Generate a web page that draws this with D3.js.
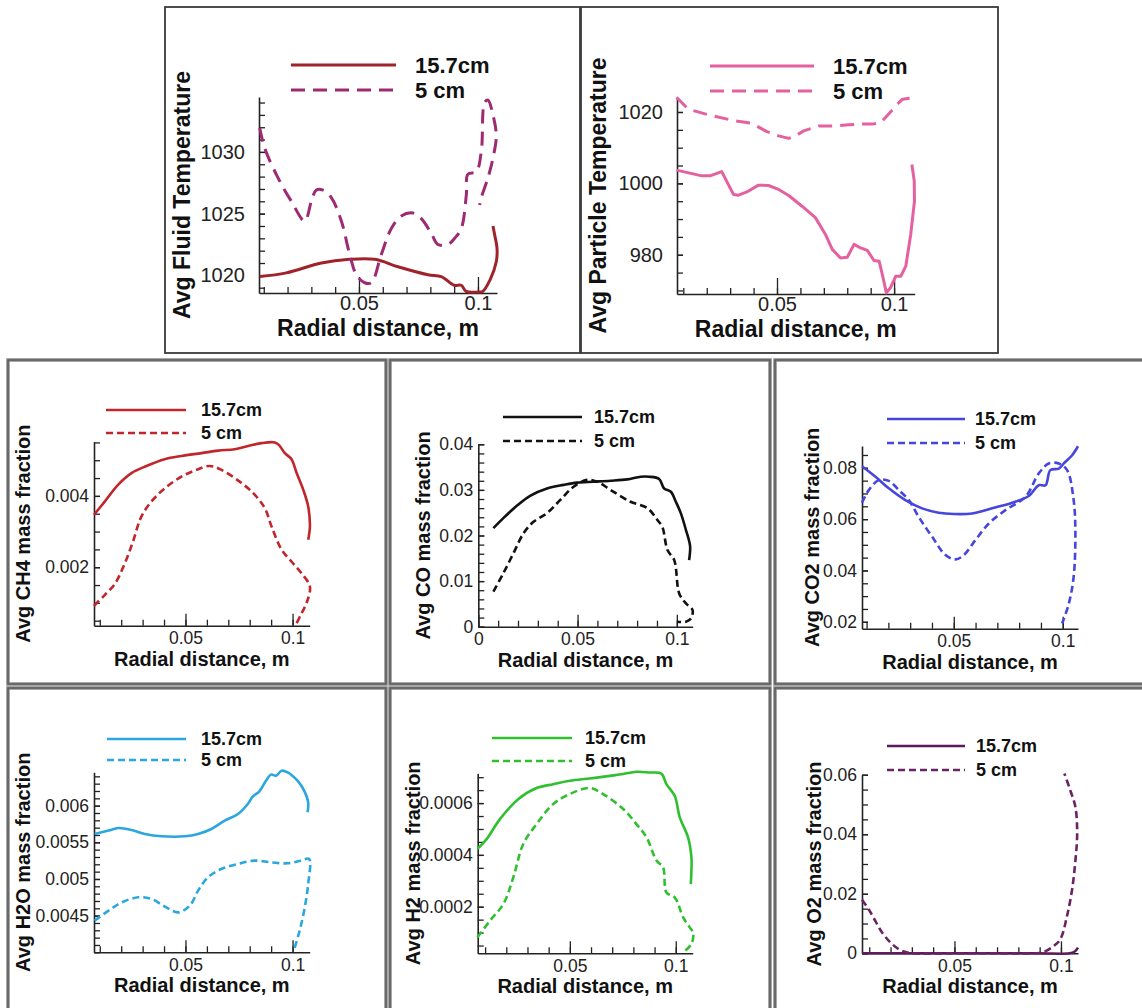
<!DOCTYPE html>
<html>
<head>
<meta charset="utf-8">
<script src="https://cdn.jsdelivr.net/npm/d3@7"></script>
<style>
  body { margin: 0; background: #fff; }
  svg { display: block; font-family: "Liberation Sans", Arial, sans-serif; }
</style>
</head>
<body>
<svg id="fig" width="1142" height="1008"></svg>
<script>
// Radial profiles at two heights (15.7 cm and 5 cm): [radial distance (m), value]
const seriesNames = ["15.7cm", "5 cm"];
const xAxisTitle = "Radial distance, m";

const fluidTemp157 = [[0.0083,1019.9],[0.0195,1020.2],[0.0342,1021.0],[0.046,1021.3],[0.0566,1021.3],[0.0664,1020.7],[0.079,1020.05],[0.0846,1019.9],[0.090,1019.2],[0.093,1019.2],[0.095,1018.7],[0.1,1018.65],[0.102,1018.7],[0.105,1019.6],[0.1077,1021.1],[0.108,1022.2],[0.107,1023.3],[0.1063,1024.0]];
const fluidTemp5 = [[0.0083,1031.95],[0.0104,1030.3],[0.016,1027.9],[0.0216,1026.0],[0.0272,1024.4],[0.030,1026.0],[0.032,1026.9],[0.0349,1026.9],[0.0384,1026.3],[0.0426,1024.4],[0.0461,1021.7],[0.0489,1020.05],[0.0524,1019.4],[0.0552,1019.4],[0.0594,1021.7],[0.0636,1023.8],[0.0678,1024.8],[0.0727,1025.05],[0.0762,1024.6],[0.0804,1023.4],[0.0832,1022.5],[0.0874,1022.5],[0.0902,1023.0],[0.093,1023.8],[0.0951,1026.5],[0.0958,1028.2],[0.0993,1028.4],[0.1014,1030.05],[0.1028,1034.0],[0.1042,1034.2],[0.1063,1033.0],[0.1077,1031.3],[0.1063,1029.5],[0.1042,1027.9],[0.1014,1026.3],[0.1007,1025.7]];
const fluidTempTicks = [1020, 1025, 1030];

const particleTemp157 = [[0.0071,1003.7],[0.0179,1002.1],[0.0214,1002.1],[0.0264,1003.3],[0.0314,996.9],[0.0336,996.7],[0.0371,997.6],[0.0421,999.5],[0.0464,999.4],[0.0507,998.3],[0.055,996.6],[0.0607,993.6],[0.0664,990.4],[0.0707,985.7],[0.0736,981.5],[0.0771,979.1],[0.08,979.3],[0.0829,982.9],[0.0857,981.9],[0.0886,981.2],[0.0914,978.4],[0.0936,978.2],[0.095,974.4],[0.0967,969.3],[0.0986,970.9],[0.1007,974],[0.1029,974],[0.105,976.8],[0.1071,985.7],[0.1087,995],[0.1086,1000.7],[0.1076,1005.3]];
const particleTemp5 = [[0.0071,1024.1],[0.0121,1020.8],[0.0207,1019.2],[0.0307,1017.7],[0.0393,1016.8],[0.0457,1014.5],[0.0507,1013.3],[0.055,1012.6],[0.0579,1013.3],[0.0614,1014.7],[0.0679,1016.1],[0.075,1016.1],[0.0807,1016.4],[0.085,1016.6],[0.0907,1016.6],[0.0943,1017.0],[0.0979,1019.6],[0.1014,1022.2],[0.1036,1023.6],[0.1071,1023.9],[0.1085,1024.3]];
const particleTempTicks = [980, 1000, 1020];

const ch4_157 = [[0.0073,0.00347],[0.0123,0.00384],[0.0185,0.00431],[0.0248,0.00464],[0.0318,0.00484],[0.0403,0.00503],[0.0481,0.00512],[0.0575,0.0052],[0.0653,0.00527],[0.073,0.00531],[0.0793,0.0054],[0.0855,0.00548],[0.0917,0.0055],[0.0936,0.00543],[0.0964,0.0052],[0.0995,0.00503],[0.1019,0.00464],[0.105,0.00417],[0.1073,0.0037],[0.1081,0.00314],[0.1073,0.00277]];
const ch4_5 = [[0.0073,0.00092],[0.0123,0.00122],[0.017,0.00153],[0.0217,0.00211],[0.0255,0.00272],[0.0294,0.00342],[0.0341,0.00384],[0.0403,0.00421],[0.0481,0.00454],[0.0551,0.00473],[0.0614,0.00484],[0.0668,0.00473],[0.0762,0.00436],[0.0824,0.00403],[0.0871,0.00365],[0.0902,0.00314],[0.0949,0.00249],[0.0995,0.00216],[0.1042,0.00183],[0.1081,0.00146],[0.1065,0.00099],[0.1042,0.00071],[0.1019,0.00043]];
const ch4Ticks = [0.002, 0.004];

const co157 = [[0.0076,0.0216],[0.0126,0.0238],[0.0194,0.0265],[0.0261,0.0287],[0.0346,0.0303],[0.043,0.0311],[0.0497,0.0316],[0.0582,0.0318],[0.0666,0.032],[0.075,0.0323],[0.0818,0.0329],[0.086,0.0329],[0.0911,0.0324],[0.0936,0.0303],[0.097,0.0296],[0.0995,0.0274],[0.102,0.0249],[0.1046,0.0212],[0.1067,0.0176],[0.1062,0.0146]];
const co5 = [[0.0076,0.0077],[0.0126,0.0117],[0.0177,0.0161],[0.0228,0.0205],[0.0278,0.023],[0.0346,0.0249],[0.0413,0.0278],[0.048,0.0307],[0.0548,0.0322],[0.0599,0.0318],[0.0666,0.03],[0.0767,0.0274],[0.0852,0.026],[0.0902,0.0234],[0.0927,0.0219],[0.0953,0.0168],[0.0987,0.0146],[0.1012,0.0073],[0.1046,0.0051],[0.1079,0.0037],[0.1071,0.0018],[0.1046,0.0011],[0.1003,0.0011]];
const coTicks = [0, 0.01, 0.02, 0.03, 0.04];

const co2_157 = [[0.0079,0.0806],[0.0141,0.0765],[0.0202,0.072],[0.0278,0.0674],[0.0355,0.0642],[0.0431,0.0625],[0.05,0.062],[0.0584,0.0622],[0.0676,0.0642],[0.0768,0.0664],[0.0844,0.069],[0.089,0.0732],[0.0921,0.0732],[0.0943,0.0791],[0.0982,0.0797],[0.1005,0.0817],[0.1043,0.0849],[0.107,0.0884]];
const co2_5 = [[0.0079,0.0664],[0.011,0.0713],[0.0156,0.0752],[0.0202,0.0749],[0.0248,0.0713],[0.0294,0.0674],[0.0339,0.0609],[0.0401,0.0531],[0.0462,0.046],[0.0508,0.0443],[0.0546,0.046],[0.0599,0.0518],[0.0661,0.0583],[0.0737,0.0635],[0.0829,0.0687],[0.089,0.0778],[0.0936,0.0817],[0.0982,0.0817],[0.102,0.0791],[0.105,0.0674],[0.1058,0.0544],[0.105,0.0375],[0.1028,0.0271],[0.0997,0.0193]];
const co2Ticks = [0.02, 0.04, 0.06, 0.08];

const h2o157 = [[0.0076,0.005614],[0.0141,0.00566],[0.0187,0.005695],[0.0249,0.005668],[0.0311,0.005614],[0.0389,0.005582],[0.0497,0.005582],[0.0559,0.005614],[0.0621,0.005682],[0.0683,0.005795],[0.0745,0.005886],[0.0791,0.006023],[0.0814,0.006123],[0.0845,0.006195],[0.0876,0.006341],[0.0899,0.006423],[0.0923,0.006409],[0.0949,0.006477],[0.0977,0.006455],[0.1023,0.006341],[0.1054,0.006205],[0.1073,0.006045],[0.107,0.005909]];
const h2o5 = [[0.0076,0.004432],[0.0141,0.004568],[0.0203,0.004682],[0.028,0.00475],[0.0342,0.004727],[0.0404,0.004623],[0.0466,0.004545],[0.052,0.004636],[0.0559,0.004841],[0.0605,0.005023],[0.0667,0.005136],[0.0745,0.005205],[0.0822,0.00525],[0.0899,0.005227],[0.0977,0.005214],[0.1039,0.00525],[0.1077,0.005273],[0.1073,0.004932],[0.1054,0.004568],[0.1031,0.004273],[0.1008,0.004045]];
const h2oTicks = [0.0045, 0.005, 0.0055, 0.006];

const h2_157 = [[0.0064,0.000423],[0.0107,0.000461],[0.017,0.000538],[0.0256,0.000615],[0.0343,0.000658],[0.0421,0.000673],[0.05,0.000686],[0.0594,0.000695],[0.0689,0.000705],[0.0752,0.000712],[0.0814,0.000721],[0.0877,0.000718],[0.0932,0.000714],[0.0956,0.000673],[0.0995,0.000628],[0.1019,0.000545],[0.1058,0.000468],[0.1074,0.00039],[0.1074,0.000339],[0.1071,0.000287]];
const h2_5 = [[0.0064,0.000082],[0.0123,0.000146],[0.0186,0.00021],[0.0233,0.000313],[0.028,0.000442],[0.0343,0.000519],[0.0421,0.000596],[0.05,0.000635],[0.0594,0.000658],[0.0657,0.000635],[0.0752,0.000577],[0.0814,0.000519],[0.0862,0.000468],[0.0909,0.000378],[0.094,0.000352],[0.0956,0.000255],[0.0995,0.000236],[0.1035,0.000159],[0.1066,0.00012],[0.1082,0.0001],[0.1074,0.000056],[0.1035,0.000024]];
const h2Ticks = [0.0002, 0.0004, 0.0006];

const o2_157 = [[0.0066,0],[0.03,0],[0.06,0],[0.09,0],[0.104,0],[0.1065,0.0006],[0.108,0.0019]];
const o2_5 = [[0.0066,0.018],[0.0098,0.0147],[0.0129,0.0108],[0.0161,0.0069],[0.02,0.0036],[0.024,0.0013],[0.0271,0.0004],[0.0303,0],[0.05,0],[0.07,0],[0.088,0],[0.0918,0.0004],[0.0965,0.0024],[0.0997,0.0047],[0.1028,0.0124],[0.1052,0.0213],[0.1068,0.0313],[0.1076,0.0402],[0.1068,0.0491],[0.1044,0.0547],[0.1016,0.0604]];
const o2Ticks = [0, 0.02, 0.04, 0.06];

// Panel layout: frame box, plot area (x0, x1, yTop, yBottom) and styling
const bigText = { tick: 20, title: 23, legend: 22, tickPad: 14, xPad: 3, xMajor: 16, lw: 3, dash: "14,8" };
const smallText = { tick: 17.5, title: 20, legend: 18, tickPad: 5, xPad: 6, xMajor: 12, lw: 2.6, dash: "7,4" };

const panels = [
  { frame: [165, 7, 580, 353], frameStyle: "dark", plot: [259, 497, 97, 293], xDomain: [0.008, 0.108], yDomain: [1018.57, 1034.45],
    yTicks: fluidTempTicks, yMinor: 1, xTicks: [0.05, 0.1], yTitle: "Avg Fluid Temperature", yTitleX: 182,
    data: [fluidTemp157, fluidTemp5], colors: ["#a0232b", "#9e2a72"], smooth: true, text: bigText,
    legend: { x0: 291, x1: 396, y: 65, tx: 415, gap: 25 } },
  { frame: [581, 7, 998, 353], frameStyle: "dark", plot: [677, 914.7, 97, 294], xDomain: [0.0073, 0.1088], yDomain: [969, 1024.2],
    yTicks: particleTempTicks, yMinor: 5, xTicks: [0.05, 0.1], yTitle: "Avg Particle Temperature", yTitleX: 598,
    data: [particleTemp157, particleTemp5], colors: ["#e4609f", "#e4609f"], smooth: false, text: bigText,
    legend: { x0: 710, x1: 814, y: 66, tx: 833, gap: 25 } },
  { frame: [8, 360, 386, 684], frameStyle: "gray", plot: [94, 309.7, 441.7, 625.7], xDomain: [0.0073, 0.108], yDomain: [0.00036, 0.00552],
    yTicks: ch4Ticks, yMinor: 0.0005, xTicks: [0.05, 0.1], yTitle: "Avg CH4 mass fraction", yTitleX: 23,
    data: [ch4_157, ch4_5], colors: ["#c0262c", "#c0262c"], smooth: true, text: smallText,
    legend: { x0: 106, x1: 186, y: 410, tx: 201, gap: 23 } },
  { frame: [390, 360, 770, 684], frameStyle: "gray", plot: [478.3, 692.7, 444.3, 626.7], xDomain: [0, 0.108], yDomain: [0, 0.04],
    yTicks: coTicks, yMinor: 0.002, xTicks: [0, 0.05, 0.1], yTitle: "Avg CO mass fraction", yTitleX: 423,
    data: [co157, co5], colors: ["#111111", "#111111"], smooth: true, text: smallText,
    legend: { x0: 503, x1: 582, y: 417, tx: 594, gap: 24 } },
  { frame: [775, 360, 1152, 684], frameStyle: "gray", plot: [862, 1078, 446, 628.7], xDomain: [0.0079, 0.107], yDomain: [0.0173, 0.0885],
    yTicks: co2Ticks, yMinor: 0.005, xTicks: [0.05, 0.1], yTitle: "Avg CO2 mass fraction", yTitleX: 812,
    data: [co2_157, co2_5], colors: ["#4646de", "#4646de"], smooth: true, text: smallText,
    legend: { x0: 887, x1: 965, y: 419, tx: 975, gap: 24 } },
  { frame: [8, 688, 386, 1016], frameStyle: "gray", plot: [94, 309.7, 772.3, 952.3], xDomain: [0.0073, 0.108], yDomain: [0.0040, 0.006455],
    yTicks: h2oTicks, yMinor: 0.0001, xTicks: [0.05, 0.1], yTitle: "Avg H2O mass fraction", yTitleX: 23,
    data: [h2o157, h2o5], colors: ["#2ba6de", "#2ba6de"], smooth: true, text: smallText,
    legend: { x0: 107, x1: 186, y: 739, tx: 201, gap: 21 } },
  { frame: [390, 688, 770, 1016], frameStyle: "gray", plot: [477.7, 692.7, 773.3, 953.3], xDomain: [0.0065, 0.108], yDomain: [0.00002, 0.000715],
    yTicks: h2Ticks, yMinor: 0.00005, xTicks: [0.05, 0.1], yTitle: "Avg H2 mass fraction", yTitleX: 413,
    data: [h2_157, h2_5], colors: ["#2fbf2f", "#2fbf2f"], smooth: true, text: smallText,
    legend: { x0: 492, x1: 572, y: 738, tx: 585, gap: 23 } },
  { frame: [775, 688, 1152, 1016], frameStyle: "gray", plot: [862, 1078, 774.7, 953.3], xDomain: [0.0066, 0.108], yDomain: [0, 0.06],
    yTicks: o2Ticks, yMinor: 0.005, xTicks: [0.05, 0.1], yTitle: "Avg O2 mass fraction", yTitleX: 814,
    data: [o2_157, o2_5], colors: ["#5e1a5a", "#6a2464"], smooth: true, text: smallText,
    legend: { x0: 887, x1: 965, y: 746, tx: 976, gap: 24 } }
];

const svg = d3.select("#fig");

function minorValues(domain, step) {
  const out = [];
  const start = Math.ceil(domain[0] / step - 1e-9);
  const end = Math.floor(domain[1] / step + 1e-9);
  for (let k = start; k <= end; k++) out.push(+(k * step).toPrecision(10));
  return out;
}

panels.forEach(p => {
  const t = p.text;
  const [fx0, fy0, fx1, fy1] = p.frame;
  // panel frame
  if (p.frameStyle === "gray") {
    svg.append("rect").attr("x", fx0).attr("y", fy0).attr("width", fx1 - fx0).attr("height", fy1 - fy0)
      .attr("fill", "none").attr("stroke", "#8a8a8a").attr("stroke-width", 3.5);
    svg.append("rect").attr("x", fx0).attr("y", fy0).attr("width", fx1 - fx0).attr("height", fy1 - fy0)
      .attr("fill", "none").attr("stroke", "#555").attr("stroke-width", 1.2);
  } else {
    svg.append("rect").attr("x", fx0).attr("y", fy0).attr("width", fx1 - fx0).attr("height", fy1 - fy0)
      .attr("fill", "none").attr("stroke", "#3a3a3a").attr("stroke-width", 1.8);
  }

  const [px0, px1, pyT, pyB] = p.plot;
  const x = d3.scaleLinear().domain(p.xDomain).range([px0, px1]);
  const y = d3.scaleLinear().domain(p.yDomain).range([pyB, pyT]);
  const g = svg.append("g");

  // minor ticks
  g.append("g").attr("transform", `translate(0,${pyB})`)
    .call(d3.axisBottom(x).tickValues(minorValues(p.xDomain, 0.01)).tickSize(-6).tickSizeOuter(0).tickFormat(""))
    .call(s => s.select(".domain").remove());
  g.append("g").attr("transform", `translate(${px0},0)`)
    .call(d3.axisLeft(y).tickValues(minorValues(p.yDomain, p.yMinor)).tickSize(-6).tickSizeOuter(0).tickFormat(""))
    .call(s => s.select(".domain").remove());

  // major ticks + labels
  const xAx = g.append("g").attr("transform", `translate(0,${pyB})`)
    .call(d3.axisBottom(x).tickValues(p.xTicks).tickSize(-t.xMajor).tickSizeOuter(0).tickPadding(t.xPad).tickFormat(d => String(d)));
  const yAx = g.append("g").attr("transform", `translate(${px0},0)`)
    .call(d3.axisLeft(y).tickValues(p.yTicks).tickSize(-6).tickSizeOuter(0).tickPadding(t.tickPad).tickFormat(d => String(d)));
  [xAx, yAx].forEach(a => {
    a.selectAll("text").attr("font-size", t.tick).attr("fill", "#222").attr("font-family", "Liberation Sans, Arial, sans-serif");
  });
  g.selectAll(".tick line").attr("stroke", "#222").attr("stroke-width", 1.3);
  g.selectAll(".domain").attr("stroke", "#222").attr("stroke-width", 1.6);

  // axis titles
  svg.append("text").attr("x", (px0 + px1) / 2).attr("y", pyB + (t === bigText ? 43 : 40))
    .attr("text-anchor", "middle").attr("font-weight", "bold").attr("font-size", t.title).attr("fill", "#111")
    .text(xAxisTitle);
  const capHalf = t.title * 0.36;
  svg.append("text").attr("transform", `translate(${p.yTitleX + capHalf},${(pyT + pyB) / 2}) rotate(-90)`)
    .attr("text-anchor", "middle").attr("font-weight", "bold").attr("font-size", t.title).attr("fill", "#111")
    .text(p.yTitle);

  // curves
  const line = d3.line().x(d => x(d[0])).y(d => y(d[1]))
    .curve(p.smooth ? d3.curveCatmullRom.alpha(0.5) : d3.curveLinear);
  p.data.forEach((s, i) => {
    svg.append("path").datum(s).attr("d", line).attr("fill", "none")
      .attr("stroke", p.colors[i]).attr("stroke-width", t.lw)
      .attr("stroke-linejoin", "round")
      .attr("stroke-dasharray", i === 1 ? t.dash : null);
  });

  // legend
  seriesNames.forEach((name, i) => {
    const ly = p.legend.y + i * p.legend.gap;
    svg.append("line").attr("x1", p.legend.x0).attr("x2", p.legend.x1).attr("y1", ly).attr("y2", ly)
      .attr("stroke", p.colors[i]).attr("stroke-width", t.lw)
      .attr("stroke-dasharray", i === 1 ? t.dash : null);
    svg.append("text").attr("x", p.legend.tx).attr("y", ly + t.legend * 0.36)
      .attr("font-weight", "bold").attr("font-size", t.legend).attr("fill", "#111").text(name);
  });
});
</script>
</body>
</html>
